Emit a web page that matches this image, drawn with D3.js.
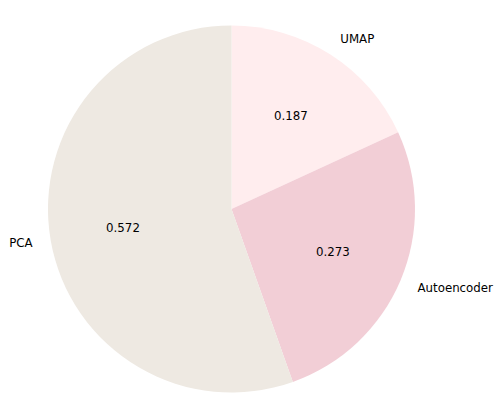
<!DOCTYPE html>
<html>
<head>
<meta charset="utf-8">
<script src="https://cdn.jsdelivr.net/npm/d3@7"></script>
<style>
  body { margin: 0; background: #fff; }
  text { font-family: "DejaVu Sans", sans-serif; font-size: 11.8px; fill: #000; }
</style>
</head>
<body>
<svg id="chart" width="503" height="418"></svg>
<script>
// values (clockwise from 12 o'clock)
const categories = ["UMAP", "Autoencoder", "PCA"];
const values = [0.187, 0.273, 0.572];
const colors = ["#ffedee", "#f2ced6", "#eee9e2"];

const width = 503, height = 418;
const cx = 231.5, cy = 209, radius = 183.5;

const svg = d3.select("#chart");
const g = svg.append("g").attr("transform", `translate(${cx},${cy})`);

const data = categories.map((c, i) => ({ name: c, value: values[i], color: colors[i] }));

const pie = d3.pie().sort(null).value(d => d.value);
const arc = d3.arc().innerRadius(0).outerRadius(radius);
const arcs = pie(data);

g.selectAll("path")
  .data(arcs)
  .join("path")
  .attr("d", arc)
  .attr("fill", d => d.data.color);

// category labels outside at 1.1 r, values inside at 0.6 r
arcs.forEach(d => {
  var mid = (d.startAngle + d.endAngle) / 2;
  var sx = Math.sin(mid), sy = -Math.cos(mid);
  g.append("text")
    .attr("x", sx * radius * 1.1)
    .attr("y", sy * radius * 1.1)
    .attr("dy", "0.35em")
    .attr("text-anchor", sx > 0 ? "start" : "end")
    .text(d.data.name);
  g.append("text")
    .attr("x", sx * radius * 0.6)
    .attr("y", sy * radius * 0.6)
    .attr("dy", "0.35em")
    .attr("text-anchor", "middle")
    .text(d3.format(".3f")(d.data.value));
});
</script>
</body>
</html>
